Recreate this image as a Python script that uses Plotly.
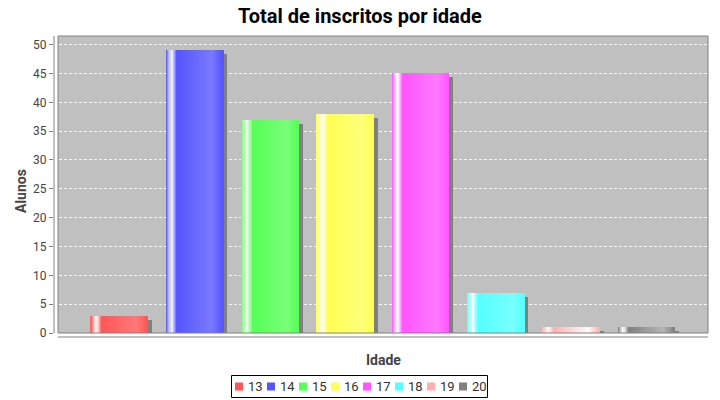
import plotly.graph_objects as go

# ---- data ----
idades = ["13", "14", "15", "16", "17", "18", "19", "20"]
alunos = [3, 49, 37, 38, 45, 7, 1, 1]
cores = [(255, 85, 85), (85, 85, 255), (85, 255, 85), (255, 255, 85),
         (255, 85, 255), (85, 255, 255), (255, 175, 175), (128, 128, 128)]
titulo = "Total de inscritos por idade"
y_ticks = [0, 5, 10, 15, 20, 25, 30, 35, 40, 45, 50]

# ---- geometry (pixels of a 720x400 figure) ----
W, H = 720, 400
ML, MR, MT, MB = 54, 12, 36, 63
PW, PH = W - ML - MR, H - MT - MB
X_RANGE = [-0.870, 7.816]
Y_RANGE = [-0.693, 51.5]
px_x = PW / (X_RANGE[1] - X_RANGE[0])
px_y = PH / (Y_RANGE[1] - Y_RANGE[0])
BAR_W = 57 / px_x
SHADOW_DX = 4 / px_x
SHADOW_DY = 4 / px_y
NSLICE = 48


def brighter(c):
    out = []
    for v in c:
        if v == 0:
            v = 3
        out.append(min(int(v / 0.7), 255))
    return tuple(out)


def lerp(a, b, t):
    return tuple(a[i] + (b[i] - a[i]) * t for i in range(3))


def grad_color(c0, t):
    c1 = brighter(c0)
    white = (255, 255, 255)
    stops = [(0.0, c0), (0.10, white), (0.20, c0), (0.80, c1), (1.0, c0)]
    for (t0, a), (t1, b) in zip(stops[:-1], stops[1:]):
        if t <= t1:
            u = (t - t0) / (t1 - t0)
            r, g, bb = lerp(a, b, u)
            return f"rgb({round(r)},{round(g)},{round(bb)})"
    return f"rgb{c0}"


def px2paper_x(px):
    return (px - ML) / PW


def px2paper_y(py):
    return (H - MB - py) / PH


fig = go.Figure()

# shadows
for i, (lab, v) in enumerate(zip(idades, alunos)):
    fig.add_trace(go.Bar(
        x=[i + SHADOW_DX], y=[v - SHADOW_DY], width=[BAR_W],
        marker=dict(color="rgb(128,128,128)", line=dict(width=0)),
        showlegend=False, hoverinfo="skip"))

# gradient bars (sliced)
for i, (lab, v, c) in enumerate(zip(idades, alunos, cores)):
    sw = BAR_W / NSLICE
    xs = [i - BAR_W / 2 + (k + 0.5) * sw for k in range(NSLICE)]
    cols = [grad_color(c, (k + 0.5) / NSLICE) for k in range(NSLICE)]
    fig.add_trace(go.Bar(
        x=xs, y=[v] * NSLICE, width=[sw * 1.02] * NSLICE,
        marker=dict(color=cols, line=dict(width=0)),
        name=lab, showlegend=False,
        hovertemplate=f"Idade {lab}: {v}<extra></extra>"))

shapes = [
    # plot background
    dict(type="rect", xref="x domain", yref="y domain",
         x0=4 / PW, x1=1, y0=4 / PH, y1=1,
         fillcolor="#c0c0c0", line=dict(width=0), layer="below"),
    # plot outline
    dict(type="rect", xref="x domain", yref="y domain",
         x0=4 / PW, x1=1, y0=4 / PH, y1=1,
         fillcolor="rgba(0,0,0,0)", line=dict(color="#808080", width=1),
         layer="above"),
    # y axis line
    dict(type="line", xref="x domain", yref="y domain",
         x0=0, x1=0, y0=4 / PH, y1=1,
         line=dict(color="#808080", width=1), layer="above"),
    # x axis line
    dict(type="line", xref="x domain", yref="y domain",
         x0=4 / PW, x1=1, y0=0, y1=0,
         line=dict(color="#808080", width=1), layer="above"),
    # legend box
    dict(type="rect", xref="paper", yref="paper",
         x0=px2paper_x(231.5), x1=px2paper_x(487.5),
         y0=px2paper_y(397.5), y1=px2paper_y(375.5),
         fillcolor="white", line=dict(color="black", width=1)),
]

annotations = [
    dict(text="Idade", xref="paper", yref="paper",
         x=px2paper_x(383), y=px2paper_y(360), xanchor="center", yanchor="middle",
         showarrow=False, font=dict(family="Roboto", size=14, color="#444444",
                                    weight="bold")),
    dict(text="Alunos", xref="paper", yref="paper", textangle=-90,
         x=px2paper_x(21), y=px2paper_y(191), xanchor="center", yanchor="middle",
         showarrow=False, font=dict(family="Roboto", size=14, color="#444444",
                                    weight="bold")),
]

# legend
for j, (lab, c) in enumerate(zip(idades, cores)):
    sx = 235 + j * 32.0
    shapes.append(dict(type="rect", xref="paper", yref="paper",
                       x0=px2paper_x(sx), x1=px2paper_x(sx + 8),
                       y0=px2paper_y(390.5), y1=px2paper_y(382.5),
                       fillcolor=f"rgb{c}", line=dict(width=0)))
    annotations.append(dict(text=lab, xref="paper", yref="paper",
                            x=px2paper_x(sx + 11), y=px2paper_y(386.5),
                            xanchor="left", yanchor="middle", showarrow=False,
                            font=dict(family="Roboto", size=13, color="#333333")))

fig.update_layout(
    width=W, height=H,
    margin=dict(l=ML, r=MR, t=MT, b=MB, pad=0),
    paper_bgcolor="white", plot_bgcolor="rgba(0,0,0,0)",
    barmode="overlay", bargap=0,
    showlegend=False,
    title=dict(text=titulo, x=0.5, xanchor="center", xref="container",
               y=1 - 16 / H, yanchor="middle", yref="container",
               font=dict(family="Roboto", size=20, color="black", weight="bold")),
    xaxis=dict(range=X_RANGE, visible=False, fixedrange=True),
    yaxis=dict(range=Y_RANGE, tickvals=y_ticks, ticks="outside", ticklen=4,
               tickcolor="#808080", tickwidth=1,
               tickfont=dict(family="Roboto", size=12, color="#444444"),
               showgrid=True, gridcolor="rgba(255,255,255,0.85)", gridwidth=0.6,
               griddash="3px,2px", zeroline=False, showline=False,
               fixedrange=True),
    shapes=shapes, annotations=annotations,
)

fig.write_html("out.html",
               config={"displayModeBar": False},
               post_script="document.body.style.margin='0';"
                           "document.body.style.padding='0';")
